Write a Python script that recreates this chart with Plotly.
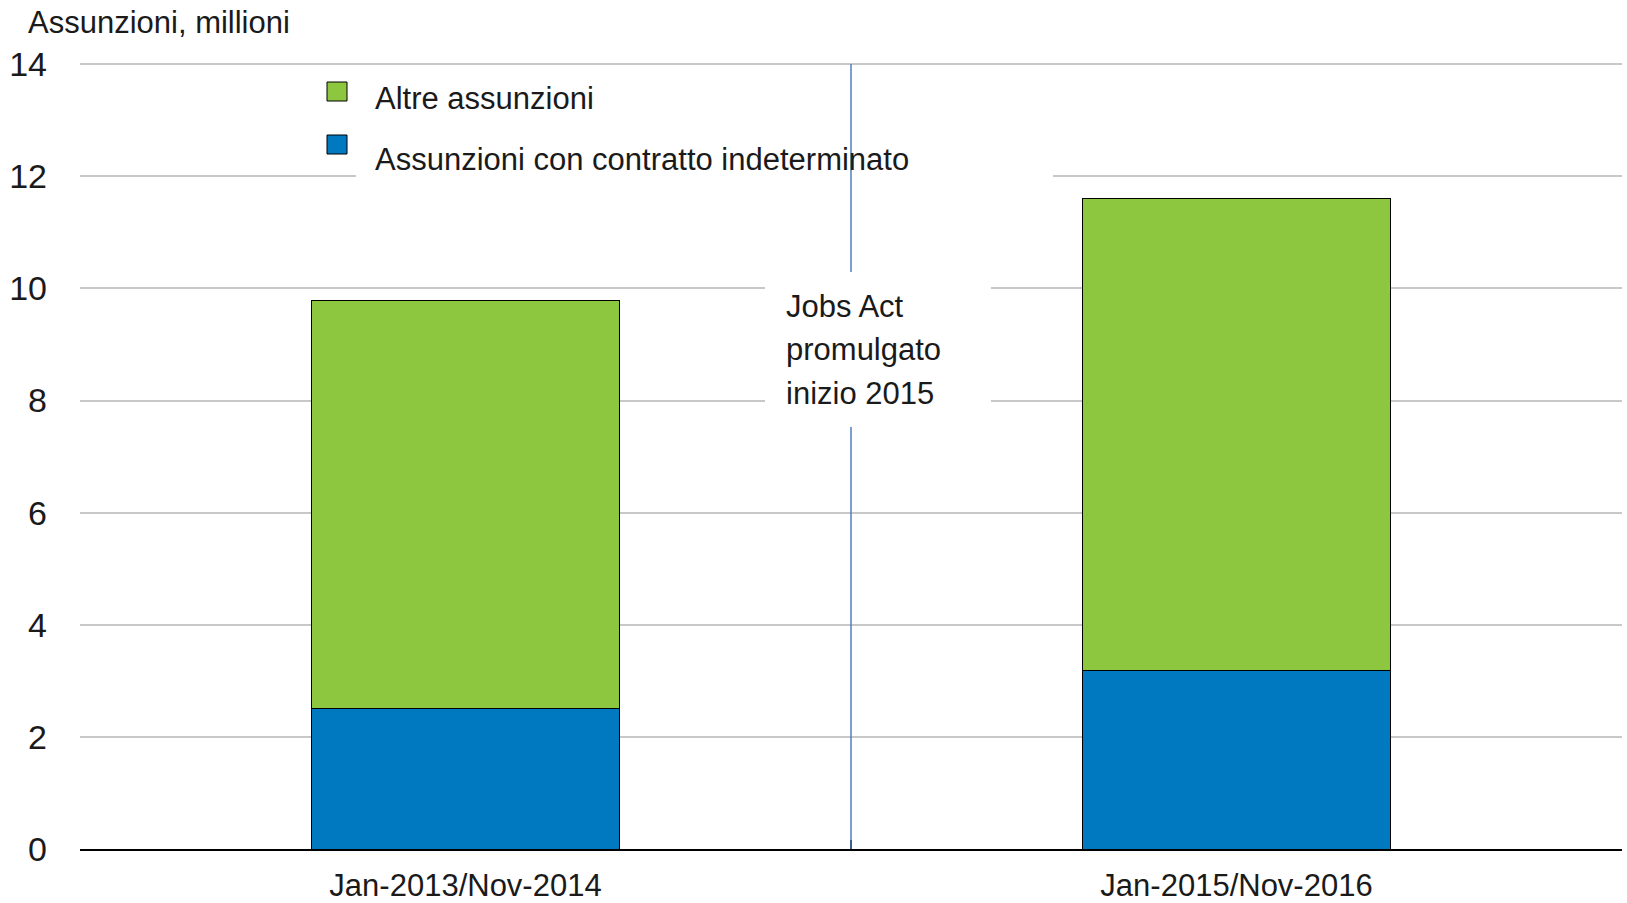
import plotly.graph_objects as go

# ---- data ----
categories = ["Jan-2013/Nov-2014", "Jan-2015/Nov-2016"]
indeterminato = [2.50, 3.18]
altre = [7.28, 8.42]
series_names = ["Assunzioni con contratto indeterminato", "Altre assunzioni"]
y_ticks = [0, 2, 4, 6, 8, 10, 12, 14]
title_text = "Assunzioni, millioni"
note_lines = ["Jobs Act", "promulgato", "inizio 2015"]

# ---- style ----
W, H = 1627, 903
ML, MR, MT, MB = 80, 5, 63, 54
PW, PH = W - ML - MR, H - MT - MB
FONT = "Liberation Sans Narrow, Arial Narrow, Liberation Sans, Arial, sans-serif"
FS = 31
FS_Y = 34
TXT = "#1a1a1a"
GREEN = "#8DC63F"
BLUE = "#0079C1"
VLINE = "#4F81BD"


def px_x(p):
    return (p - ML) / PW


def px_y(p):
    return (H - MB - p) / PH


fig = go.Figure()
fig.add_trace(go.Bar(x=categories, y=indeterminato, name=series_names[0],
                     marker=dict(color=BLUE, line=dict(color="black", width=1)),
                     showlegend=False))
fig.add_trace(go.Bar(x=categories, y=altre, name=series_names[1],
                     marker=dict(color=GREEN, line=dict(color="black", width=1)),
                     showlegend=False))

shapes = []
# white box behind legend (interrupts gridline)
shapes.append(dict(type="rect", xref="paper", yref="paper",
                   x0=px_x(356), x1=px_x(1053), y0=px_y(190), y1=px_y(70),
                   fillcolor="white", line=dict(width=0), layer="above"))
# vertical line between periods
shapes.append(dict(type="line", xref="x", yref="y", x0=0.5, x1=0.5, y0=0, y1=14,
                   line=dict(color=VLINE, width=1.5), layer="above"))
# white box behind the note (interrupts gridlines and the vertical line)
shapes.append(dict(type="rect", xref="paper", yref="paper",
                   x0=px_x(765), x1=px_x(991), y0=px_y(427), y1=px_y(272),
                   fillcolor="white", line=dict(width=0), layer="above"))
# legend squares
legend_colors = [GREEN, BLUE]
legend_labels = [series_names[1], series_names[0]]
sq_tops = [82, 135]
for c, t in zip(legend_colors, sq_tops):
    shapes.append(dict(type="rect", xref="paper", yref="paper",
                       x0=px_x(327), x1=px_x(347), y0=px_y(t + 19), y1=px_y(t),
                       fillcolor=c, line=dict(color="black", width=1), layer="above"))

annotations = []
text_centers = [99, 160]
for lab, yc in zip(legend_labels, text_centers):
    annotations.append(dict(text=lab, xref="paper", yref="paper", x=px_x(373),
                            y=px_y(yc), xanchor="left", yanchor="middle",
                            showarrow=False, font=dict(family=FONT, size=FS, color=TXT)))
annotations.append(dict(text=title_text, xref="paper", yref="paper", x=px_x(26),
                        y=px_y(22), xanchor="left", yanchor="middle", showarrow=False,
                        font=dict(family=FONT, size=FS, color=TXT)))
note_centers = [306, 350, 393]
for line, yc in zip(note_lines, note_centers):
    annotations.append(dict(text=line, xref="paper", yref="paper", x=px_x(784),
                            y=px_y(yc), xanchor="left", yanchor="middle",
                            showarrow=False, font=dict(family=FONT, size=FS, color=TXT)))

fig.update_layout(
    width=W, height=H,
    margin=dict(l=ML, r=MR, t=MT, b=MB, autoexpand=False),
    paper_bgcolor="white", plot_bgcolor="white",
    barmode="stack", bargap=0.6,
    showlegend=False,
    font=dict(family=FONT, size=FS, color=TXT),
    shapes=shapes, annotations=annotations,
    xaxis=dict(type="category", range=[-0.5, 1.5], showgrid=False, zeroline=False,
               showline=True, linecolor="black", linewidth=2,
               ticks="inside", tickson="boundaries", ticklen=9, tickwidth=1.5,
               tickcolor="black", tickfont=dict(family=FONT, size=FS, color=TXT),
               ticklabelstandoff=8),
    yaxis=dict(range=[0, 14.02], tickvals=y_ticks, showgrid=True, gridcolor="#C8C8C8",
               gridwidth=1.5, zeroline=False, showline=False, ticks="",
               tickfont=dict(family=FONT, size=FS_Y, color=TXT), ticklabelstandoff=32),
)

fig.write_html("out.html", config={"displayModeBar": False},
               post_script="document.body.style.margin='0';document.body.style.padding='0';")
